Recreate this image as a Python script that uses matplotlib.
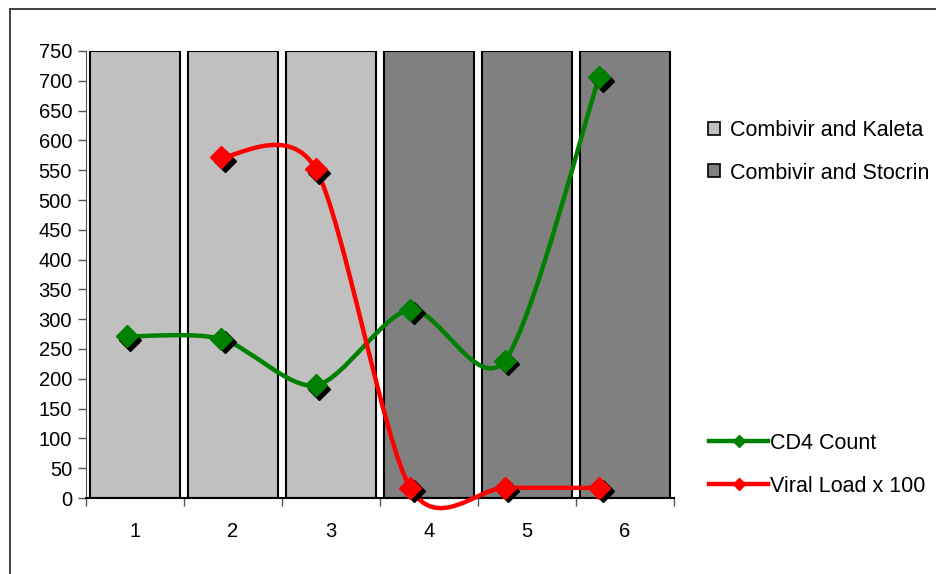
import numpy as np
import matplotlib
matplotlib.use("Agg")
import matplotlib.pyplot as plt
from matplotlib.path import Path
from matplotlib.patches import PathPatch, Patch, Rectangle
from matplotlib.lines import Line2D
from matplotlib import transforms

plt.rcParams['font.family'] = ['Liberation Sans', 'DejaVu Sans']

# data
visits = [1, 2, 3, 4, 5, 6]
regimen = ['Combivir and Kaleta', 'Combivir and Kaleta', 'Combivir and Kaleta',
           'Combivir and Stocrin', 'Combivir and Stocrin', 'Combivir and Stocrin']
bar_height = [750, 750, 750, 750, 750, 750]
cd4_count = [271, 267, 189, 316, 230, 706]
viral_x100 = [None, 572, 552, 17, 17, 17]

regimen_colors = {'Combivir and Kaleta': '#C0C0C0', 'Combivir and Stocrin': '#808080'}


def smooth_path(xs, ys, k=1 / 7):
    # Excel-style smoothed line: cubic Bezier through each point
    pts = [(x, y) for x, y in zip(xs, ys) if y is not None]
    n = len(pts)
    verts = [pts[0]]
    codes = [Path.MOVETO]
    for i in range(n - 1):
        p0 = pts[max(i - 1, 0)]
        p1 = pts[i]
        p2 = pts[i + 1]
        p3 = pts[min(i + 2, n - 1)]
        c1 = (p1[0] + (p2[0] - p0[0]) * k, p1[1] + (p2[1] - p0[1]) * k)
        c2 = (p2[0] - (p3[0] - p1[0]) * k, p2[1] - (p3[1] - p1[1]) * k)
        verts += [c1, c2, p2]
        codes += [Path.CURVE4] * 3
    return Path(verts, codes)


fig = plt.figure(figsize=(9.36, 5.74), dpi=100)
ax = fig.add_axes([86 / 936, 1 - 498 / 574, 588 / 936, 447 / 574])

# background bars
ax.bar(visits, bar_height, width=0.92, color=[regimen_colors[r] for r in regimen],
       edgecolor='black', linewidth=1.5, zorder=1)
ax.set_xlim(0.5, 6.5)
ax.set_ylim(0, 750)
ax.set_yticks(range(0, 751, 50))
ax.set_xticks(visits)
ax.set_xticklabels([str(v) for v in visits])
ax.set_xticks(np.arange(0.5, 6.6, 1), minor=True)
ax.tick_params(axis='x', which='major', length=0, pad=17, labelsize=14.5)
ax.tick_params(axis='x', which='minor', length=6, width=1, color='#555555')
ax.tick_params(axis='y', length=6, width=1, color='#555555', pad=4, labelsize=14.5)
for s in ['top', 'right']:
    ax.spines[s].set_visible(False)
ax.spines['left'].set_color('#555555')
ax.spines['bottom'].set_color('black')
ax.spines['bottom'].set_linewidth(1.5)

# lines sit on their own (hidden) category axis
ax2 = ax.twiny()
ax2.set_xlim(0.566, 6.794)
ax2.set_ylim(0, 750)
ax2.axis('off')

shadow = transforms.offset_copy(ax2.transData, fig=fig, x=3.5, y=-3.5, units='dots')
for vals, col in [(cd4_count, '#008000'), (viral_x100, '#FF0000')]:
    ax2.add_patch(PathPatch(smooth_path(visits, vals), facecolor='none', edgecolor=col,
                            linewidth=3.2, capstyle='round', joinstyle='round', zorder=3,
                            clip_on=False))
    xs = [x for x, y in zip(visits, vals) if y is not None]
    ys = [y for y in vals if y is not None]
    ax2.plot(xs, ys, linestyle='none', marker='D', ms=11, color='black',
             transform=shadow, zorder=4, clip_on=False)
    ax2.plot(xs, ys, linestyle='none', marker='D', ms=11, color=col,
             zorder=5, clip_on=False)

# legends
bar_handles = [Patch(facecolor=regimen_colors[k], edgecolor='black', linewidth=1.2)
               for k in regimen_colors]
fig.legend(bar_handles, list(regimen_colors), loc='upper left',
           bbox_to_anchor=(708 / 936, 1 - 120 / 574), frameon=False, fontsize=15.5,
           handlelength=0.55, handleheight=0.55, handletextpad=0.45,
           labelspacing=1.0, borderpad=0, borderaxespad=0)

line_handles = [Line2D([], [], color='#008000', lw=3.2, marker='D', ms=6),
                Line2D([], [], color='#FF0000', lw=3.2, marker='D', ms=6)]
fig.legend(line_handles, ['CD4 Count', 'Viral Load x 100'], loc='upper left',
           bbox_to_anchor=(709 / 936, 1 - 433 / 574), frameon=False, fontsize=15.5,
           handlelength=2.75, handletextpad=0.1, labelspacing=1.0,
           borderpad=0, borderaxespad=0)

# chart area frame
fig.patches.append(Rectangle((10 / 936, -0.1), 2, 1 - 9 / 574 + 0.1,
                             transform=fig.transFigure, fill=False,
                             edgecolor='#333333', linewidth=1.3))

fig.savefig('out.png', dpi=100)
